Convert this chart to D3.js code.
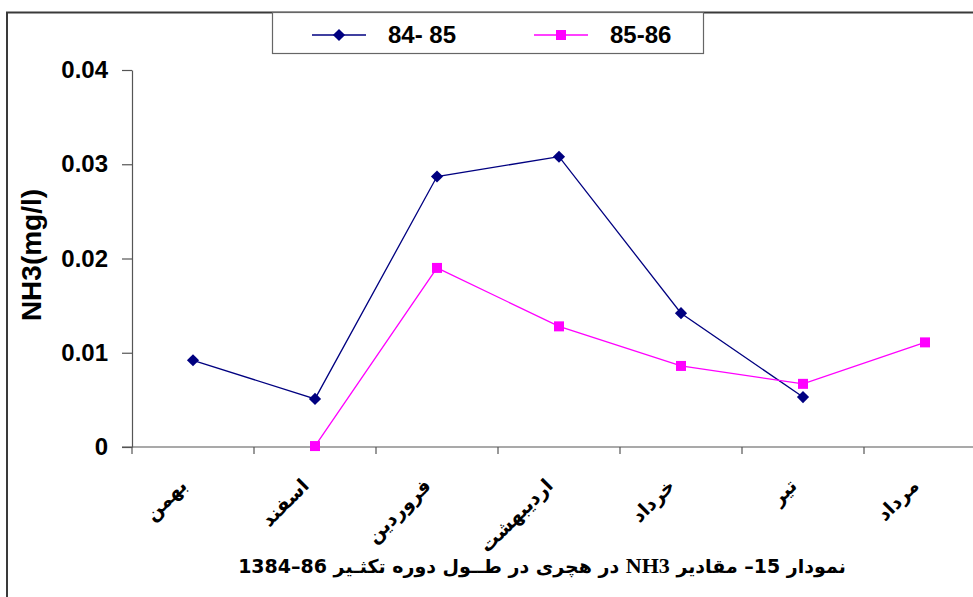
<!DOCTYPE html>
<html>
<head>
<meta charset="utf-8">
<script src="https://cdn.jsdelivr.net/npm/d3@7/dist/d3.min.js"></script>
<style>
  body { margin: 0; background: #fff; }
  svg { display: block; }
  text { font-family: "Liberation Sans", Arial, sans-serif; font-weight: bold; fill: #000; }
  .fa { font-family: "DejaVu Sans", sans-serif; }
</style>
</head>
<body>
<div class="chart"></div>
<script>
var width = 973, height = 597;
var padding = { top: 70, left: 132, bottom: 150, right: -13 };

// data
var categories = ["بهمن", "اسفند", "فروردین", "اردیبهشت", "خرداد", "تیر", "مرداد"];
var values8485 = [0.0092, 0.0051, 0.0287, 0.0308, 0.0142, 0.0053, null];
var values8586 = [null, 0.0001, 0.0190, 0.0128, 0.0086, 0.0067, 0.0111];
var seriesNames = ["84- 85", "85-86"];
var seriesColors = ["#000080", "#FF00FF"];
var yTicks = [0, 0.01, 0.02, 0.03, 0.04];
var yTitle = "NH3(mg/l)";

var svg = d3.select(".chart")
  .append("svg")
    .attr("width", width)
    .attr("height", height);

// outer frame (runs off the right / bottom edge)
svg.append("path")
  .attr("d", "M7," + (height + 5) + "V12.5H" + (width + 5))
  .attr("fill", "none")
  .attr("stroke", "#3a3a3a")
  .attr("stroke-width", 2);

var x_scale = d3.scaleBand()
  .domain(categories)
  .range([padding.left, width - padding.right])
  .padding(0);

var y_scale = d3.scaleLinear()
  .domain([0, 0.04])
  .range([height - padding.bottom, padding.top]);

// y axis
var yAxis = svg.append("g")
  .attr("class", "y-axis")
  .attr("transform", "translate(" + padding.left + ",0)")
  .call(d3.axisLeft(y_scale)
    .tickValues(yTicks)
    .tickSize(10)
    .tickSizeOuter(0)
    .tickPadding(14)
    .tickFormat(function(d){ return d === 0 ? "0" : d3.format(".2f")(d); }));
yAxis.selectAll("path, line").attr("stroke", "#555").attr("stroke-width", 1.2);
yAxis.selectAll("text")
  .attr("font-size", 24)
  .attr("font-family", "Liberation Sans, Arial, sans-serif")
  .attr("font-weight", "bold")
  .attr("fill", "#000");

// x axis: ticks on band edges, labels at band centres
var xAxis = svg.append("g")
  .attr("class", "x-axis")
  .attr("transform", "translate(0," + y_scale(0) + ")");
xAxis.append("line")
  .attr("x1", padding.left - 10)
  .attr("x2", width)
  .attr("stroke", "#555")
  .attr("stroke-width", 1.2);
xAxis.selectAll(".tick")
  .data(categories)
  .enter()
  .append("line")
    .attr("class", "tick")
    .attr("x1", function(d){ return x_scale(d); })
    .attr("x2", function(d){ return x_scale(d); })
    .attr("y1", 0)
    .attr("y2", 7)
    .attr("stroke", "#555")
    .attr("stroke-width", 1.2);
xAxis.selectAll(".label")
  .data(categories)
  .enter()
  .append("text")
    .attr("class", "label fa")
    .attr("font-size", 19)
    .attr("text-anchor", "end")
    .attr("transform", function(d){
      return "translate(" + (x_scale(d) + x_scale.bandwidth() / 2 - 5) + ",40) rotate(-45)";
    })
    .text(function(d){ return d; });

// y title
svg.append("text")
  .attr("transform", "translate(41,255) rotate(-90)")
  .attr("text-anchor", "middle")
  .attr("font-size", 28)
  .text(yTitle);

// lines + markers
var allSeries = [values8485, values8586];

var linePath = d3.line()
  .defined(function(d){ return d.v != null; })
  .x(function(d){ return x_scale(d.c) + x_scale.bandwidth() / 2; })
  .y(function(d){ return y_scale(d.v); });

allSeries.forEach(function(vals, i){
  var pts = categories.map(function(c, j){ return { c: c, v: vals[j] }; });
  svg.append("path")
    .attr("class", "line-path")
    .attr("d", linePath(pts))
    .attr("fill", "none")
    .attr("stroke", seriesColors[i])
    .attr("stroke-width", 1.3);
  svg.selectAll(".dot" + i)
    .data(pts.filter(function(d){ return d.v != null; }))
    .enter()
    .append("rect")
      .attr("class", "dot" + i)
      .attr("x", i === 0 ? -4.3 : -5)
      .attr("y", i === 0 ? -4.3 : -5)
      .attr("width", i === 0 ? 8.6 : 10)
      .attr("height", i === 0 ? 8.6 : 10)
      .attr("fill", seriesColors[i])
      .attr("transform", function(d){
        return "translate(" + (x_scale(d.c) + x_scale.bandwidth() / 2) + "," + y_scale(d.v) + ")" + (i === 0 ? " rotate(45)" : "");
      });
});

// legend
var legend = svg.append("g").attr("class", "legend");
legend.append("rect")
  .attr("x", 272.5)
  .attr("y", 12.5)
  .attr("width", 431)
  .attr("height", 41)
  .attr("fill", "#fff")
  .attr("stroke", "#666")
  .attr("stroke-width", 1.2);
var legendX = [312, 534];
seriesNames.forEach(function(name, i){
  var g = legend.append("g").attr("transform", "translate(" + legendX[i] + ",35)");
  g.append("line")
    .attr("x1", 0).attr("x2", 54)
    .attr("stroke", seriesColors[i])
    .attr("stroke-width", 1.3);
  g.append("rect")
    .attr("x", i === 0 ? -4.3 : -5)
    .attr("y", i === 0 ? -4.3 : -5)
    .attr("width", i === 0 ? 8.6 : 10)
    .attr("height", i === 0 ? 8.6 : 10)
    .attr("fill", seriesColors[i])
    .attr("transform", "translate(27,0)" + (i === 0 ? " rotate(45)" : ""));
  g.append("text")
    .attr("x", 76)
    .attr("y", 8)
    .attr("font-size", 24)
    .text(name);
});

// caption (rtl)
var caption = svg.append("text")
  .attr("class", "fa")
  .attr("x", 542)
  .attr("y", 573)
  .attr("text-anchor", "middle")
  .attr("direction", "rtl")
  .attr("font-size", 19);
caption.append("tspan").text("نمودار  15– مقادیر ");
caption.append("tspan").attr("font-family", "Liberation Serif, serif").attr("font-size", 22).text("NH3");
caption.append("tspan").text(" در هچری در طــول دوره تکثـیر 86–1384");
</script>
</body>
</html>
